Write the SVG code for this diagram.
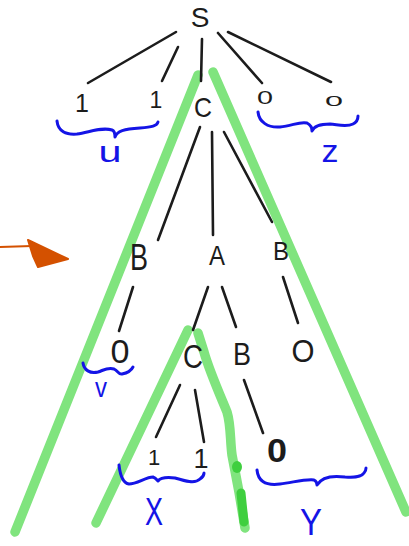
<svg xmlns="http://www.w3.org/2000/svg" width="409" height="546" viewBox="0 0 409 546">
  <style>
    .edge { stroke: #1c1c1c; stroke-width: 2.6; stroke-linecap: round; fill: none; }
    .sym { font-family: "Liberation Sans", "DejaVu Sans", sans-serif; fill: #1c1c1c; text-anchor: middle; }
    .brace { stroke: #1414e6; stroke-width: 3; stroke-linecap: round; stroke-linejoin: round; fill: none; }
    .lbl { font-family: "Liberation Sans", "DejaVu Sans", sans-serif; fill: #1414e6; text-anchor: middle; }
    .hl { stroke: #80e47e; stroke-width: 9.5; stroke-linecap: round; stroke-linejoin: round; fill: none; }
    .hl-dark { stroke: #3fcf3f; stroke-width: 9; stroke-linecap: round; fill: none; }
  </style>

  <!-- green sub-tree highlights -->
  <g id="highlights">
    <path class="hl" d="M198,75 L15,532"/>
    <path class="hl" d="M213,72 L406,512"/>
    <path class="hl" d="M188,330 L96,523"/>
    <path class="hl" d="M198,333 L204,352 C209,370 220,395 227,412 C231,425 230,440 232,455 L239,492 L245,528"/>
    <ellipse cx="237" cy="467" rx="5" ry="6" fill="#3fcf3f"/>
    <path class="hl-dark" d="M241,493 L244,522"/>
  </g>

  <!-- tree edges -->
  <g id="connectors">
    <line class="edge" x1="176" y1="32" x2="88" y2="83"/>
    <line class="edge" x1="178" y1="47" x2="162" y2="81"/>
    <line class="edge" x1="202" y1="39" x2="201" y2="81"/>
    <line class="edge" x1="218" y1="33" x2="262" y2="83"/>
    <line class="edge" x1="228" y1="32" x2="331" y2="82"/>
    <line class="edge" x1="200" y1="127" x2="158" y2="240"/>
    <line class="edge" x1="212" y1="132" x2="213" y2="235"/>
    <line class="edge" x1="224" y1="132" x2="272" y2="222"/>
    <line class="edge" x1="133" y1="287" x2="119" y2="331"/>
    <line class="edge" x1="208" y1="287" x2="193" y2="330"/>
    <line class="edge" x1="222" y1="287" x2="236" y2="327"/>
    <line class="edge" x1="283" y1="277" x2="298" y2="323"/>
    <line class="edge" x1="180" y1="385" x2="156" y2="437"/>
    <line class="edge" x1="195" y1="390" x2="204" y2="442"/>
    <line class="edge" x1="244" y1="380" x2="263" y2="433"/>
  </g>

  <!-- tree nodes -->
  <g id="node-S"><text class="sym" x="200" y="27" font-size="28">S</text></g>
  <g id="node-1a"><text class="sym" x="82" y="112" font-size="25">1</text></g>
  <g id="node-1b"><text class="sym" x="156" y="108" font-size="23">1</text></g>
  <g id="node-C1"><text class="sym" x="203" y="117" font-size="28" textLength="18" lengthAdjust="spacingAndGlyphs">C</text></g>
  <g id="node-0a"><text class="sym" x="265" y="104" font-size="19" textLength="16" lengthAdjust="spacingAndGlyphs">0</text></g>
  <g id="node-0b"><text class="sym" x="334" y="106" font-size="15" textLength="18" lengthAdjust="spacingAndGlyphs">0</text></g>

  <g id="node-B1"><text class="sym" x="139" y="270" font-size="36" textLength="18" lengthAdjust="spacingAndGlyphs">B</text></g>
  <g id="node-A"><text class="sym" x="217" y="265" font-size="28" textLength="16" lengthAdjust="spacingAndGlyphs">A</text></g>
  <g id="node-B2"><text class="sym" x="281" y="260" font-size="25" textLength="16" lengthAdjust="spacingAndGlyphs">B</text></g>

  <g id="node-0c"><text class="sym" x="120" y="363" font-size="33" textLength="19" lengthAdjust="spacingAndGlyphs">0</text></g>
  <g id="node-C2"><text class="sym" x="193" y="368" font-size="34" textLength="20" lengthAdjust="spacingAndGlyphs">C</text></g>
  <g id="node-B3"><text class="sym" x="242" y="365" font-size="32" textLength="18" lengthAdjust="spacingAndGlyphs">B</text></g>
  <g id="node-O"><text class="sym" x="303" y="362" font-size="31" textLength="23" lengthAdjust="spacingAndGlyphs">O</text></g>

  <g id="node-1c"><text class="sym" x="154" y="465" font-size="22">1</text></g>
  <g id="node-1d"><text class="sym" x="201" y="468" font-size="27">1</text></g>
  <g id="node-0d"><text class="sym" x="277" y="462" font-size="33" font-weight="bold" textLength="20" lengthAdjust="spacingAndGlyphs">0</text></g>

  <!-- braces and their labels -->
  <g id="brace-u">
    <path class="brace" d="M57,121 C58,131 66,135 77,134 C90,132 102,127 112,130 C115,131 115,135 115,137 C117,131 124,129 140,128 C152,127 157,126 158,122"/>
    <text class="lbl" x="110" y="162" font-size="30" textLength="23" lengthAdjust="spacingAndGlyphs">u</text>
  </g>
  <g id="brace-z">
    <path class="brace" d="M258,112 C259,122 268,128 280,127 C292,126 300,121 307,123 C311,125 312,129 312,131 C314,126 320,124 330,124 C340,125 347,127 353,124 C357,122 358,119 358,116"/>
    <text class="lbl" x="330" y="162" font-size="32" textLength="17" lengthAdjust="spacingAndGlyphs">z</text>
  </g>
  <g id="brace-v">
    <path class="brace" d="M83,363 C84,370 90,374 98,372 C104,370 108,367 114,369 C118,371 119,375 122,374 C127,373 131,371 133,367"/>
    <text class="lbl" x="101" y="397" font-size="28" textLength="12" lengthAdjust="spacingAndGlyphs">v</text>
  </g>
  <g id="brace-x">
    <path class="brace" d="M119,465 C120,474 123,483 129,484 C137,484 146,477 153,477 C156,478 157,480 158,481 C161,477 167,477 175,478 C185,481 195,484 200,479 C203,477 204,475 204,473"/>
    <text class="lbl" x="154" y="525" font-size="38" textLength="18" lengthAdjust="spacingAndGlyphs">X</text>
  </g>
  <g id="brace-y">
    <path class="brace" d="M257,470 C258,480 264,486 280,484 C295,482 305,479 314,480 C316,481 317,483 317,485 C321,478 330,475 345,477 C355,478 362,476 364,473 C366,471 366,469 366,468"/>
    <text class="lbl" x="311" y="535" font-size="36" textLength="22" lengthAdjust="spacingAndGlyphs">Y</text>
  </g>

  <!-- pointer arrow -->
  <g id="arrow">
    <line x1="0" y1="247" x2="32" y2="246" stroke="#d45100" stroke-width="2" stroke-linecap="round"/>
    <polygon points="28,240 68,259 38,267 33,256" fill="#d45100" stroke="#d45100" stroke-width="2" stroke-linejoin="round"/>
  </g>
</svg>
